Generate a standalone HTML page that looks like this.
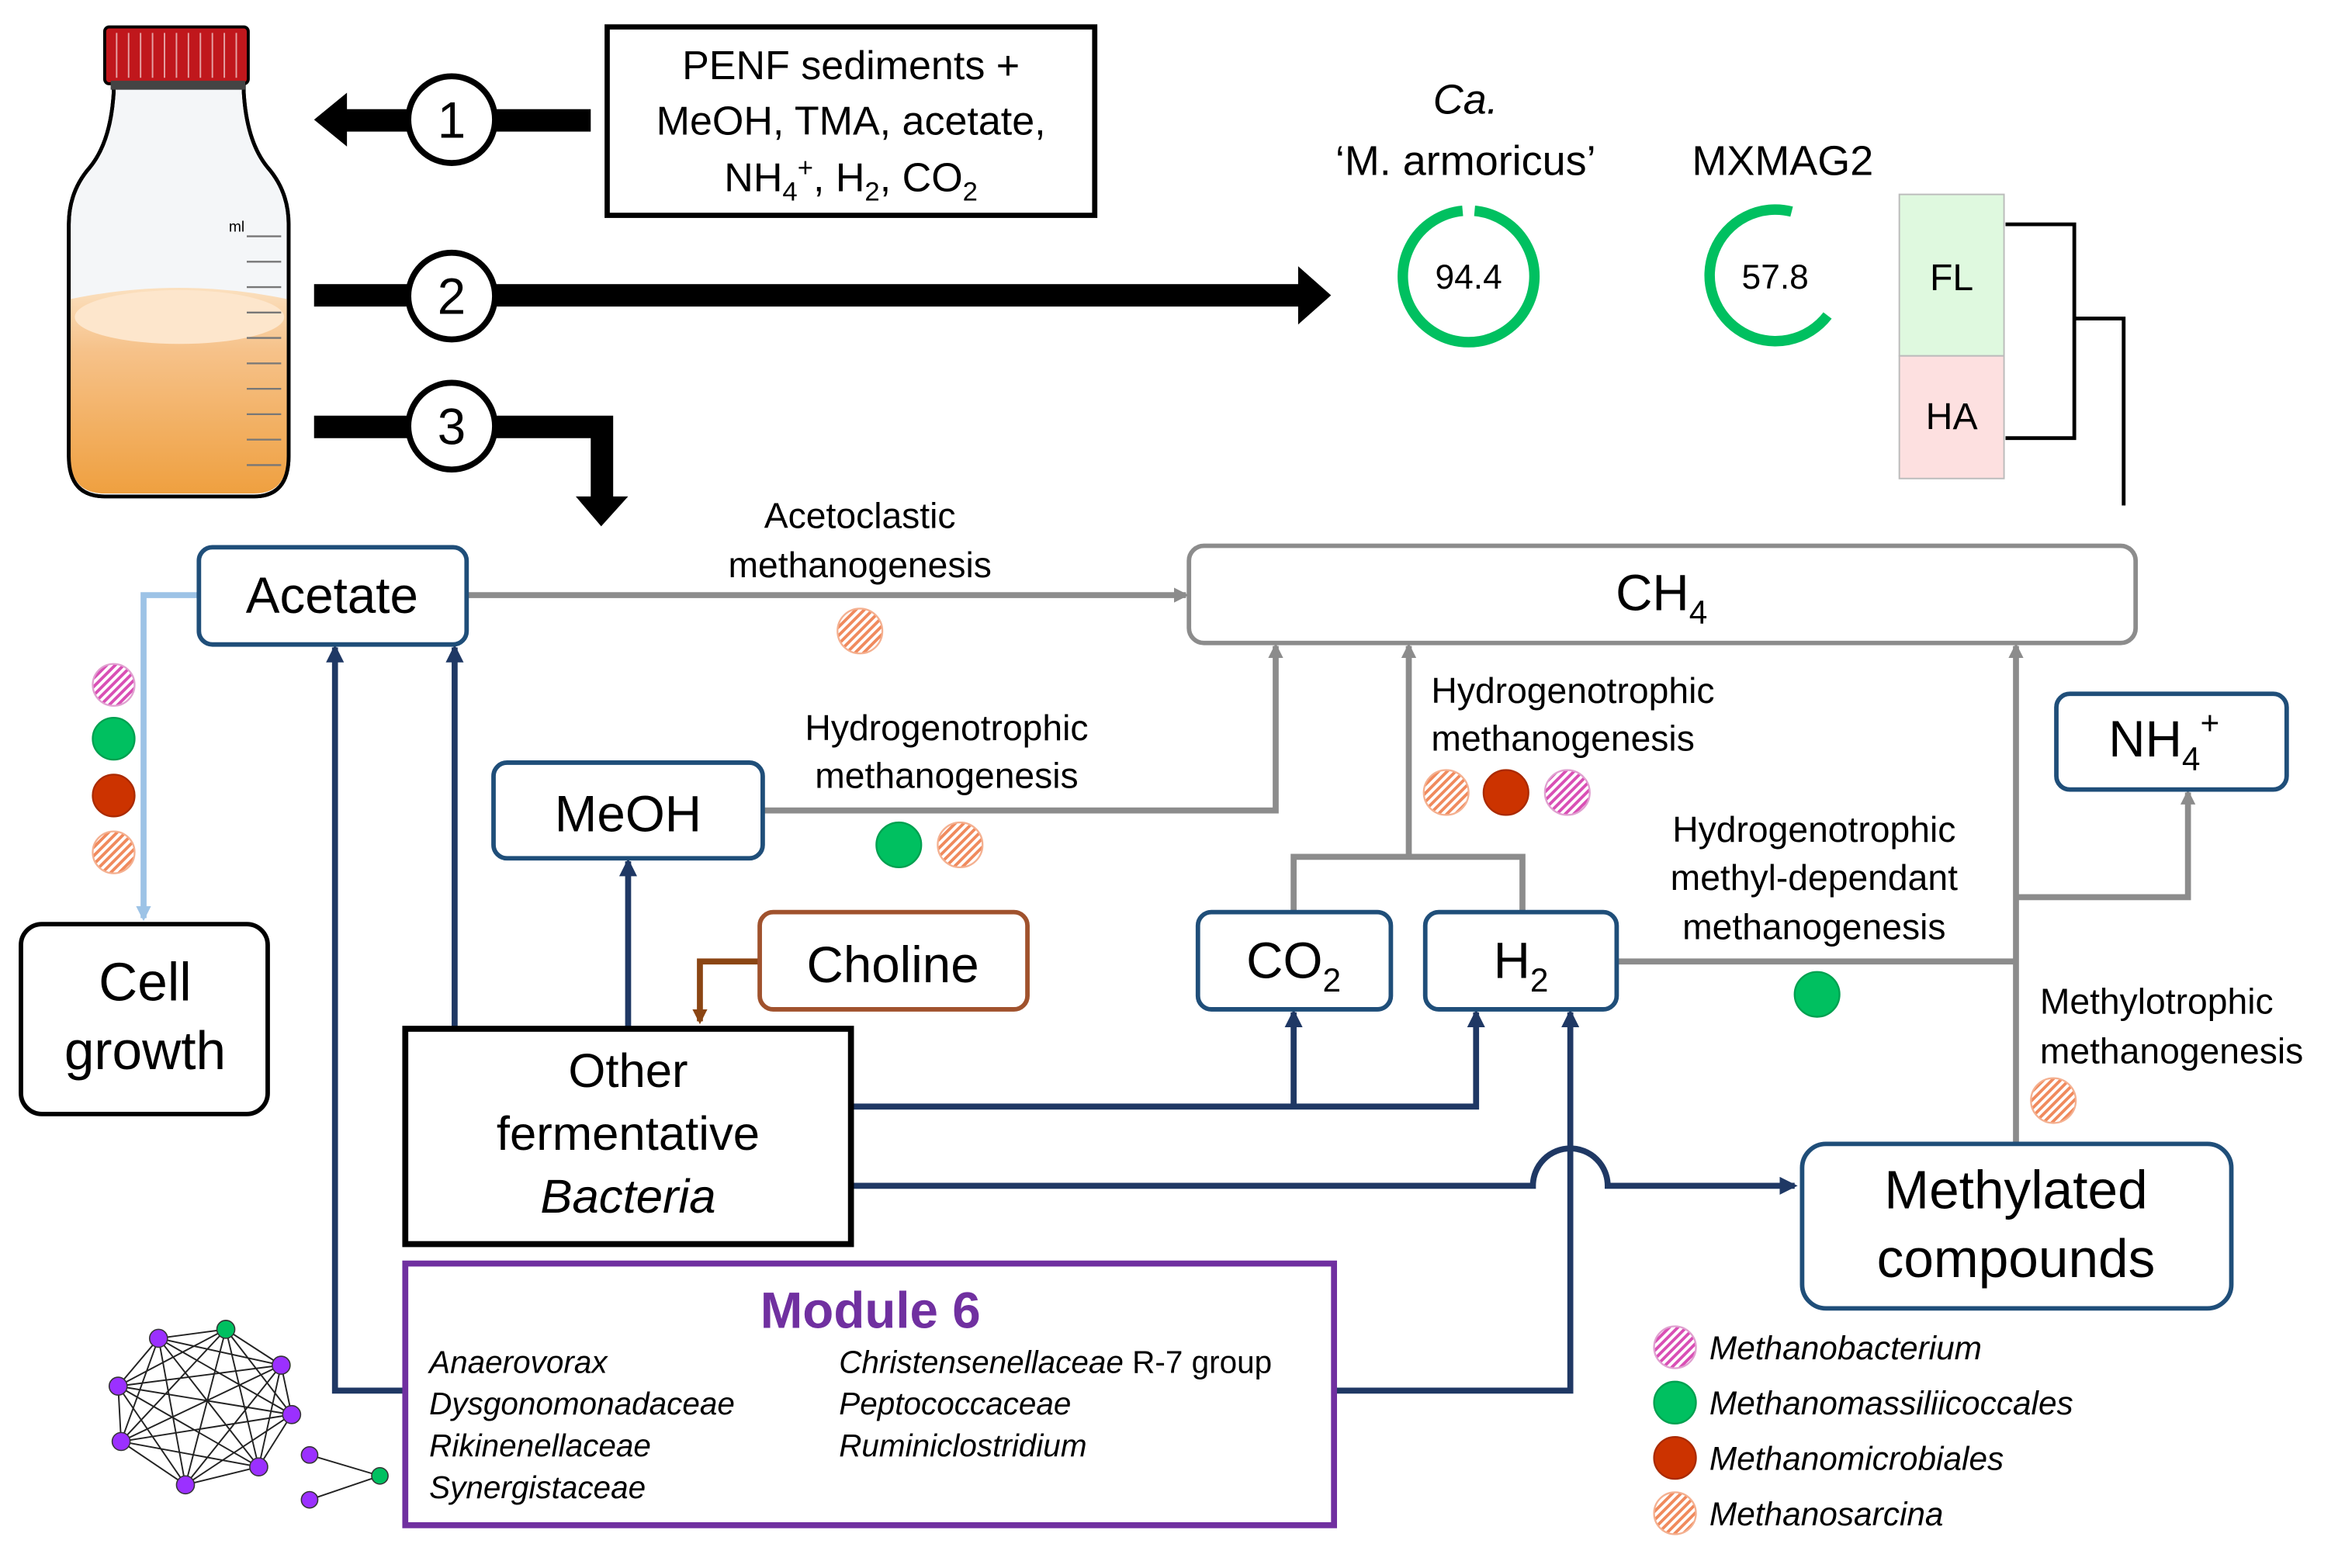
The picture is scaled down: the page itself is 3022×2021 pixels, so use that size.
<!DOCTYPE html>
<html><head><meta charset="utf-8"><style>
html,body{margin:0;padding:0;background:#fff;}
svg{display:block;}
text{font-family:"Liberation Sans",Arial,sans-serif;fill:#000;}
</style></head><body>
<svg width="3022" height="2021" viewBox="0 0 1568 1048.6" xmlns="http://www.w3.org/2000/svg">
<defs>
<pattern id="ho" patternUnits="userSpaceOnUse" width="4" height="4" patternTransform="rotate(45)"><rect width="4" height="4" fill="#fff"/><rect width="2" height="4" fill="#f08a5d"/></pattern>
<pattern id="hp" patternUnits="userSpaceOnUse" width="4" height="4" patternTransform="rotate(45)"><rect width="4" height="4" fill="#fff"/><rect width="2" height="4" fill="#d94fb5"/></pattern>
<marker id="ag" markerWidth="10" markerHeight="10" refX="8" refY="5" orient="auto" markerUnits="userSpaceOnUse"><path d="M0,0 L10,5 L0,10z" fill="#8c8c8c"/></marker>
<marker id="an" markerWidth="12" markerHeight="12" refX="10" refY="6" orient="auto" markerUnits="userSpaceOnUse"><path d="M0,0 L12,6 L0,12z" fill="#1f3864"/></marker>
<marker id="ab" markerWidth="10" markerHeight="10" refX="8" refY="5" orient="auto" markerUnits="userSpaceOnUse"><path d="M0,0 L10,5 L0,10z" fill="#9dc3e6"/></marker>
<marker id="abr" markerWidth="10" markerHeight="10" refX="8" refY="5" orient="auto" markerUnits="userSpaceOnUse"><path d="M0,0 L10,5 L0,10z" fill="#8b4513"/></marker>
<linearGradient id="liq" x1="0" y1="0" x2="0" y2="1"><stop offset="0" stop-color="#fbe0bf"/><stop offset="0.3" stop-color="#f6c28a"/><stop offset="1" stop-color="#efa040"/></linearGradient>
</defs>

<!-- Bottle -->
<path d="M76,58 L76,62 Q74,95 60,112 Q46,128 46,150 L46,305 Q46,332 70,332 L170,332 Q193,332 193,305 L193,150 Q193,128 179,112 Q165,95 163,62 L163,58 Z" fill="#f4f6f8" stroke="#000" stroke-width="2.5"/>
<path d="M47,200 Q120,185 192,200 L192,305 Q192,330 170,330 L70,330 Q47,330 47,305 Z" fill="url(#liq)"/>
<ellipse cx="120" cy="212" rx="70" ry="18" fill="#fde6cc"/>
<path d="M76,58 L76,62 Q74,95 60,112 Q46,128 46,150 L46,305 Q46,332 70,332 L170,332 Q193,332 193,305 L193,150 Q193,128 179,112 Q165,95 163,62 L163,58 Z" fill="none" stroke="#000" stroke-width="2.5"/>
<g stroke="#777" stroke-width="1.2">
<line x1="165" y1="158" x2="188" y2="158"/><line x1="165" y1="175" x2="188" y2="175"/><line x1="165" y1="192" x2="188" y2="192"/><line x1="165" y1="209" x2="188" y2="209"/><line x1="165" y1="226" x2="188" y2="226"/><line x1="165" y1="243" x2="188" y2="243"/><line x1="165" y1="260" x2="188" y2="260"/><line x1="165" y1="277" x2="188" y2="277"/><line x1="165" y1="294" x2="188" y2="294"/><line x1="165" y1="311" x2="188" y2="311"/></g>
<text x="153" y="155" font-size="10" fill="#555">ml</text>
<rect x="70" y="18" width="96" height="38" rx="3" fill="#c0171c" stroke="#000" stroke-width="2"/>
<g stroke="#fff" stroke-width="1" opacity="0.6"><line x1="78" y1="22" x2="78" y2="52"/><line x1="86" y1="22" x2="86" y2="52"/><line x1="94" y1="22" x2="94" y2="52"/><line x1="102" y1="22" x2="102" y2="52"/><line x1="110" y1="22" x2="110" y2="52"/><line x1="118" y1="22" x2="118" y2="52"/><line x1="126" y1="22" x2="126" y2="52"/><line x1="134" y1="22" x2="134" y2="52"/><line x1="142" y1="22" x2="142" y2="52"/><line x1="150" y1="22" x2="150" y2="52"/><line x1="158" y1="22" x2="158" y2="52"/></g>
<rect x="74" y="54" width="90" height="6" fill="#444"/>

<!-- big arrows -->
<rect x="228" y="73" width="167" height="15" fill="#000"/>
<path d="M210,80 L232,62 L232,98 Z" fill="#000"/>
<rect x="210" y="190" width="665" height="15" fill="#000"/>
<path d="M890,197.5 L868,178 L868,217 Z" fill="#000"/>
<path d="M210,278 L410,278 L410,335 L395,335 L395,293 L210,293 Z" fill="#000"/>
<path d="M402,352 L385,332 L420,332 Z" fill="#000"/>
<g fill="#fff" stroke="#000" stroke-width="4">
<circle cx="302" cy="80" r="29"/><circle cx="302" cy="198" r="29"/><circle cx="302" cy="285" r="29"/></g>
<g font-size="34" text-anchor="middle"><text x="302" y="92">1</text><text x="302" y="210">2</text><text x="302" y="297">3</text></g>

<rect x="406" y="18" width="326" height="126" fill="#fff" stroke="#000" stroke-width="3.5"/>
<g font-size="27" text-anchor="middle">
<text x="569" y="53">PENF sediments +</text>
<text x="569" y="90">MeOH, TMA, acetate,</text>
<text x="569" y="128">NH<tspan font-size="18" dy="6">4</tspan><tspan font-size="18" dy="-16">+</tspan><tspan dy="10">, H</tspan><tspan font-size="18" dy="6">2</tspan><tspan dy="-6">, CO</tspan><tspan font-size="18" dy="6">2</tspan></text>
</g>

<!-- MAG rings -->
<g font-size="28" text-anchor="middle">
<text x="980" y="76" font-style="italic">Ca.</text>
<text x="980" y="117">‘M. armoricus’</text>
<text x="1192" y="117">MXMAG2</text></g>
<path d="M986,141 A44,44 0 1 1 978,141" fill="none" stroke="#00c060" stroke-width="7"/>
<path d="M1198,141.5 A44,44 0 1 0 1222,211" fill="none" stroke="#00c060" stroke-width="7"/>
<g font-size="23" text-anchor="middle"><text x="982" y="193">94.4</text><text x="1187" y="193">57.8</text></g>
<rect x="1270" y="130" width="70" height="108" fill="#dff9df" stroke="#bbb" stroke-width="1"/>
<rect x="1270" y="238" width="70" height="82" fill="#fde0e0" stroke="#bbb" stroke-width="1"/>
<g font-size="25" text-anchor="middle"><text x="1305" y="194">FL</text><text x="1305" y="287">HA</text></g>
<path d="M1341,150 L1387,150 L1387,293 L1341,293 M1387,213 L1420,213 L1420,338" fill="none" stroke="#000" stroke-width="2.5"/>

<!-- gray connectors -->
<g fill="none" stroke="#8c8c8c" stroke-width="4">
<path d="M312,398 L793,398" marker-end="url(#ag)"/>
<path d="M510,542 L853,542 L853,432" marker-end="url(#ag)"/>
<path d="M865,610 L865,573 L1018,573 L1018,610 M942,573 L942,432" marker-end="url(#ag)"/>
<path d="M1081,643 L1348,643"/>
<path d="M1348,765 L1348,432" marker-end="url(#ag)"/>
<path d="M1348,600 L1463,600 L1463,530" marker-end="url(#ag)"/>
</g>

<!-- light blue -->
<path d="M133,398 L96,398 L96,614" fill="none" stroke="#9dc3e6" stroke-width="4" marker-end="url(#ab)"/>

<!-- navy connectors -->
<g fill="none" stroke="#1f3864" stroke-width="4">
<path d="M304,688 L304,433" marker-end="url(#an)"/>
<path d="M271,930 L224,930 L224,433" marker-end="url(#an)"/>
<path d="M420,688 L420,576" marker-end="url(#an)"/>
<path d="M569,740 L987,740 L987,677" marker-end="url(#an)"/>
<path d="M865,740 L865,677" marker-end="url(#an)"/>
<path d="M892,930 L1050,930 L1050,677" marker-end="url(#an)"/>
<path d="M569,793 L1025,793 A25,25 0 0 1 1075,793 L1200,793" marker-end="url(#an)"/>
</g>
<path d="M508,643 L468,643 L468,683" fill="none" stroke="#8b4513" stroke-width="4" marker-end="url(#abr)"/>

<!-- boxes -->
<g fill="#fff" stroke="#1f4e79" stroke-width="3">
<rect x="133" y="366" width="179" height="65" rx="9"/>
<rect x="330" y="510" width="180" height="64" rx="9"/>
<rect x="801" y="610" width="129" height="65" rx="9"/>
<rect x="953" y="610" width="128" height="65" rx="9"/>
<rect x="1375" y="464" width="154" height="64" rx="9"/>
<rect x="1205" y="765" width="287" height="110" rx="16"/>
</g>
<rect x="795" y="365" width="633" height="65" rx="10" fill="#fff" stroke="#8c8c8c" stroke-width="3"/>
<rect x="508" y="610" width="179" height="65" rx="9" fill="#fff" stroke="#a0522d" stroke-width="3"/>
<rect x="14" y="618" width="165" height="127" rx="14" fill="#fff" stroke="#000" stroke-width="3"/>
<rect x="271" y="688" width="298" height="144" fill="#fff" stroke="#000" stroke-width="4"/>
<rect x="271" y="845" width="621" height="175" fill="#fff" stroke="#7030a0" stroke-width="4"/>

<g font-size="34" text-anchor="middle">
<text x="222" y="410">Acetate</text>
<text x="420" y="556">MeOH</text>
<text x="597" y="657">Choline</text>
<text x="865" y="654">CO<tspan font-size="22" dy="9">2</tspan></text>
<text x="1017" y="654">H<tspan font-size="22" dy="9">2</tspan></text>
<text x="1447" y="506">NH<tspan font-size="22" dy="9">4</tspan><tspan font-size="22" dy="-24">+</tspan></text>
<text x="1111" y="408">CH<tspan font-size="22" dy="9">4</tspan></text>
<text x="97" y="669" font-size="36">Cell</text>
<text x="97" y="715" font-size="36">growth</text>
<text x="1348" y="808" font-size="36">Methylated</text>
<text x="1348" y="854" font-size="36">compounds</text>
<text x="420" y="727" font-size="32">Other</text>
<text x="420" y="769" font-size="32">fermentative</text>
<text x="420" y="811" font-size="32" font-style="italic">Bacteria</text>
</g>

<g font-size="24" text-anchor="middle">
<text x="575" y="353">Acetoclastic</text>
<text x="575" y="386">methanogenesis</text>
<text x="633" y="495">Hydrogenotrophic</text>
<text x="633" y="527">methanogenesis</text>
<text x="1213" y="563">Hydrogenotrophic</text>
<text x="1213" y="595">methyl-dependant</text>
<text x="1213" y="628">methanogenesis</text>
</g>
<g font-size="24">
<text x="957" y="470">Hydrogenotrophic</text>
<text x="957" y="502">methanogenesis</text>
<text x="1364" y="678">Methylotrophic</text>
<text x="1364" y="711">methanogenesis</text>
</g>

<text x="582" y="888" font-size="34" font-weight="bold" text-anchor="middle" style="fill:#7030a0">Module 6</text>
<g font-size="21" font-style="italic">
<text x="287" y="918">Anaerovorax</text>
<text x="287" y="946">Dysgonomonadaceae</text>
<text x="287" y="974">Rikinenellaceae</text>
<text x="287" y="1002">Synergistaceae</text>
<text x="561" y="918">Christensenellaceae <tspan font-style="normal">R-7 group</tspan></text>
<text x="561" y="946">Peptococcaceae</text>
<text x="561" y="974">Ruminiclostridium</text>
</g>

<!-- dots -->
<g stroke-width="1.2">
<ellipse cx="575" cy="422" rx="15" ry="15" fill="url(#ho)" stroke="#f4b090"/>
<ellipse cx="76" cy="458" rx="14" ry="14" fill="url(#hp)" stroke="#e0a0d0"/>
<ellipse cx="76" cy="494" rx="14" ry="14" fill="#00c060" stroke="#00a050"/>
<ellipse cx="76" cy="532" rx="14" ry="14" fill="#cc3300" stroke="#aa2a00"/>
<ellipse cx="76" cy="570" rx="14" ry="14" fill="url(#ho)" stroke="#f4b090"/>
<ellipse cx="601" cy="565" rx="15" ry="15" fill="#00c060" stroke="#00a050"/>
<ellipse cx="642" cy="565" rx="15" ry="15" fill="url(#ho)" stroke="#f4b090"/>
<ellipse cx="967" cy="530" rx="15" ry="15" fill="url(#ho)" stroke="#f4b090"/>
<ellipse cx="1007" cy="530" rx="15" ry="15" fill="#cc3300" stroke="#aa2a00"/>
<ellipse cx="1048" cy="530" rx="15" ry="15" fill="url(#hp)" stroke="#e0a0d0"/>
<ellipse cx="1215" cy="665" rx="15" ry="15" fill="#00c060" stroke="#00a050"/>
<ellipse cx="1373" cy="736" rx="15" ry="15" fill="url(#ho)" stroke="#f4b090"/>
<ellipse cx="1120" cy="901" rx="14" ry="14" fill="url(#hp)" stroke="#e0a0d0"/>
<ellipse cx="1120" cy="938" rx="14" ry="14" fill="#00c060" stroke="#00a050"/>
<ellipse cx="1120" cy="975" rx="14" ry="14" fill="#cc3300" stroke="#aa2a00"/>
<ellipse cx="1120" cy="1012" rx="14" ry="14" fill="url(#ho)" stroke="#f4b090"/>
</g>
<g font-size="22" font-style="italic">
<text x="1143" y="909">Methanobacterium</text>
<text x="1143" y="946">Methanomassiliicoccales</text>
<text x="1143" y="983">Methanomicrobiales</text>
<text x="1143" y="1020">Methanosarcina</text>
</g>

<!-- network -->
<g stroke="#222" stroke-width="1">
<path d="M106,895 L151,889 L188,913 L195,946 L173,981 L124,993 L81,964 L79,927 Z" fill="none"/>
<path d="M106,895 L188,913 M106,895 L195,946 M106,895 L173,981 M106,895 L124,993 M106,895 L81,964
M151,889 L195,946 M151,889 L173,981 M151,889 L124,993 M151,889 L81,964 M151,889 L79,927
M188,913 L173,981 M188,913 L124,993 M188,913 L81,964 M188,913 L79,927
M195,946 L124,993 M195,946 L81,964 M195,946 L79,927
M173,981 L81,964 M173,981 L79,927 M124,993 L79,927
M207,973 L254,987 M207,1003 L254,987" fill="none"/>
</g>
<g stroke="#333" stroke-width="0.8">
<ellipse cx="106" cy="895" rx="6" ry="6" fill="#9b30ff"/>
<ellipse cx="151" cy="889" rx="6" ry="6" fill="#00c060"/>
<ellipse cx="188" cy="913" rx="6" ry="6" fill="#9b30ff"/>
<ellipse cx="195" cy="946" rx="6" ry="6" fill="#9b30ff"/>
<ellipse cx="173" cy="981" rx="6" ry="6" fill="#9b30ff"/>
<ellipse cx="124" cy="993" rx="6" ry="6" fill="#9b30ff"/>
<ellipse cx="81" cy="964" rx="6" ry="6" fill="#9b30ff"/>
<ellipse cx="79" cy="927" rx="6" ry="6" fill="#9b30ff"/>
<ellipse cx="207" cy="973" rx="5.5" ry="5.5" fill="#9b30ff"/>
<ellipse cx="207" cy="1003" rx="5.5" ry="5.5" fill="#9b30ff"/>
<ellipse cx="254" cy="987" rx="5.5" ry="5.5" fill="#00c060"/>
</g>
</svg>
</body></html>
